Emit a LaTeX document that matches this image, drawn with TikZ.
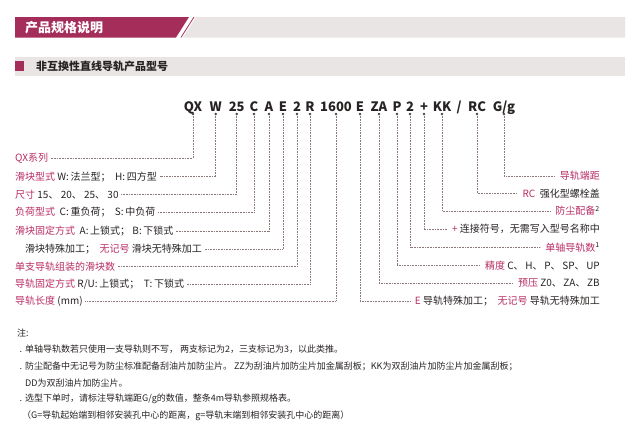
\documentclass[tikz,border=0pt]{standalone}
\usepackage{fontspec}
\setmainfont{Noto Sans CJK SC}
\usetikzlibrary{positioning}

\definecolor{qxmagenta}{RGB}{165,45,90}
\definecolor{qxlabel}{RGB}{185,45,100}
\definecolor{qxtext}{RGB}{40,35,35}
\definecolor{qxlead}{RGB}{140,118,118}
\definecolor{qxbar}{RGB}{233,229,229}

\newcommand{\hl}[1]{\textcolor{qxlabel}{#1}}

\begin{document}
\begin{tikzpicture}[x=1pt, y=-1pt,
				% Define styles
				codetok/.style={font=\fontsize{13}{13}\selectfont\bfseries, text=qxtext, inner sep=0pt, anchor=base},
				tipdot/.style={circle, fill=qxtext!85, inner sep=0pt, minimum size=2.6pt},
				leftlab/.style={anchor=west, font=\fontsize{10}{12}\selectfont, text=qxtext, inner xsep=2.5pt, inner ysep=0pt},
				rightlab/.style={anchor=east, font=\fontsize{10}{12}\selectfont, text=qxtext, inner xsep=5pt, inner ysep=0pt},
				leader/.style={draw=qxlead, line width=0.6pt, dash pattern=on 0.9pt off 0.7pt},
				notetext/.style={anchor=west, font=\fontsize{9}{11}\selectfont, text=qxtext, inner sep=0pt}
				]
				
				\useasboundingbox[fill=white] (0,0) rectangle (639,442);
				
				% Header bars
				\fill[qxmagenta] (15,17) -- (189,17) -- (176,37.5) -- (15,37.5) -- cycle;
				\draw[qxmagenta, line width=0.8pt] (194,17) -- (181,37.5);
				\fill[qxbar] (196,17) -- (625,17) -- (625,37.5) -- (183,37.5) -- cycle;
				\node[font=\fontsize{13}{13}\selectfont\bfseries, text=white, anchor=west, inner sep=0pt] (title) at (25,27.5) {产品规格说明};
				
				\fill[qxbar] (15,57) rectangle (625,76);
				\fill[qxmagenta] (15,61) rectangle (23.5,71);
				\node[font=\fontsize{11}{11}\selectfont\bfseries, text=qxtext, anchor=west, inner sep=0pt] (subtitle) at (36,66) {非互换性直线导轨产品型号};
				
				% Model code
				\node[codetok] (tqx) at (193,111) {QX};
				\node[codetok] (tw) at (215.7,111) {W};
				\node[codetok] (t25) at (236.7,111) {25};
				\node[codetok] (tc) at (254,111) {C};
				\node[codetok] (ta) at (269,111) {A};
				\node[codetok] (te1) at (283,111) {E};
				\node[codetok] (t2a) at (297,111) {2};
				\node[codetok] (tr) at (310,111) {R};
				\node[codetok] (t1600) at (336,111) {1600};
				\node[codetok] (te2) at (360,111) {E};
				\node[codetok] (tza) at (379,111) {ZA};
				\node[codetok] (tp) at (397,111) {P};
				\node[codetok] (t2b) at (410,111) {2};
				\node[codetok] (tplus) at (424,111) {+};
				\node[codetok] (tkk) at (442,111) {KK};
				\node[codetok] (tslash) at (459,111) {/};
				\node[codetok] (trc) at (477,111) {RC};
				\node[codetok] (tgg) at (504,111) {G/g};
				
				% Dots under the code
				\node[tipdot] (dqx) at (193,114) {};
				\node[tipdot] (dw) at (215.7,114) {};
				\node[tipdot] (d25) at (236.7,114) {};
				\node[tipdot] (dc) at (254,114) {};
				\node[tipdot] (da) at (269,114) {};
				\node[tipdot] (de1) at (283,114) {};
				\node[tipdot] (d2a) at (297,114) {};
				\node[tipdot] (dr) at (310,114) {};
				\node[tipdot] (d1600) at (336,114) {};
				\node[tipdot] (de2) at (360,114) {};
				\node[tipdot] (dza) at (379,114) {};
				\node[tipdot] (dp) at (397,114) {};
				\node[tipdot] (d2b) at (410,114) {};
				\node[tipdot] (dplus) at (424,114) {};
				\node[tipdot] (dkk) at (442,114) {};
				\node[tipdot] (drc) at (477,114) {};
				\node[tipdot] (dgg) at (504,114) {};
				
				% Left labels
				\node[leftlab] (lqx) at (12.5,158) {\hl{QX系列}};
				\node[leftlab] (lform) at (12.5,176.7) {\hl{滑块型式}\ W:\,法兰型；\ \ H:\,四方型};
				\node[leftlab] (lsize) at (12.5,194.3) {\hl{尺寸}\ 15、\ 20、\ 25、\ 30};
				\node[leftlab] (lload) at (12.5,212.3) {\hl{负荷型式}\ \ C:\,重负荷；\ \ S:\,中负荷};
				\node[leftlab] (lfix) at (12.5,231) {\hl{滑块固定方式}\ \ A:\,上锁式；\ B:\,下锁式};
				\node[leftlab] (lspec) at (22.5,249.3) {滑块特殊加工；\ \ \hl{无记号}\ 滑块无特殊加工};
				\node[leftlab] (lnum) at (12.5,266.7) {\hl{单支导轨组装的滑块数}};
				\node[leftlab] (lrail) at (12.5,284.3) {\hl{导轨固定方式}\ R/U:\,上锁式；\ \ T:\,下锁式};
				\node[leftlab] (llen) at (12.5,301) {\hl{导轨长度}\ (mm)};
				
				% Right labels
				\node[rightlab] (rgg) at (605,176) {\hl{导轨端距}};
				\node[rightlab] (rrc) at (605,193.3) {\hl{RC}\ \ 强化型螺栓盖};
				\node[rightlab] (rdust) at (605,211) {\hl{防尘配备}\textsuperscript{2}};
				\node[rightlab] (rplus) at (605,229.3) {\hl{+}\ 连接符号，无需写入型号名称中};
				\node[rightlab] (rcount) at (605,247.7) {\hl{单轴导轨数}\textsuperscript{1}};
				\node[rightlab] (rprec) at (605,265.7) {\hl{精度}\ C、\,H、\,P、\,SP、\,UP};
				\node[rightlab] (rpre) at (605,283.3) {\hl{预压}\ Z0、\,ZA、\,ZB};
				\node[rightlab] (re) at (605,301) {\hl{E}\ 导轨特殊加工；\ \ \hl{无记号}\ 导轨无特殊加工};
				
				% Leaders to the left
				\draw[leader] (dqx) |- (lqx.east);
				\draw[leader] (dw) |- (lform.east);
				\draw[leader] (d25) |- (lsize.east);
				\draw[leader] (dc) |- (lload.east);
				\draw[leader] (da) |- (lfix.east);
				\draw[leader] (de1) |- (lspec.east);
				\draw[leader] (d2a) |- (lnum.east);
				\draw[leader] (dr) |- (lrail.east);
				\draw[leader] (d1600) |- (llen.east);
				
				% Leaders to the right
				\draw[leader] (dgg) |- (rgg.west);
				\draw[leader] (drc) |- (rrc.west);
				\draw[leader] (dkk) |- (rdust.west);
				\draw[leader] (dplus) |- (rplus.west);
				\draw[leader] (d2b) |- (rcount.west);
				\draw[leader] (dp) |- (rprec.west);
				\draw[leader] (dza) |- (rpre.west);
				\draw[leader] (de2) |- (re.west);
				
				% Notes
				\node[notetext] (notehead) at (17,333) {注:};
				\node[notetext] (note1) at (19.5,349.3) {.\hspace{3pt}单轴导轨数若只使用一支导轨则不写，\ 两支标记为2，三支标记为3，以此类推。};
				\node[notetext] (note2) at (19.5,366.7) {.\hspace{3pt}防尘配备中无记号为防尘标准配备刮油片加防尘片。\ ZZ为刮油片加防尘片加金属刮板；KK为双刮油片加防尘片加金属刮板；};
				\node[notetext] (note3) at (25,382.7) {DD为双刮油片加防尘片。};
				\node[notetext] (note4) at (19.5,399.3) {.\hspace{3pt}选型下单时，请标注导轨端距G/g的数值，整条4m导轨参照规格表。};
				\node[notetext] (note5) at (22,416) {（G=导轨起始端到相邻安装孔中心的距离，g=导轨末端到相邻安装孔中心的距离）};
				
			\end{tikzpicture}
\end{document}
